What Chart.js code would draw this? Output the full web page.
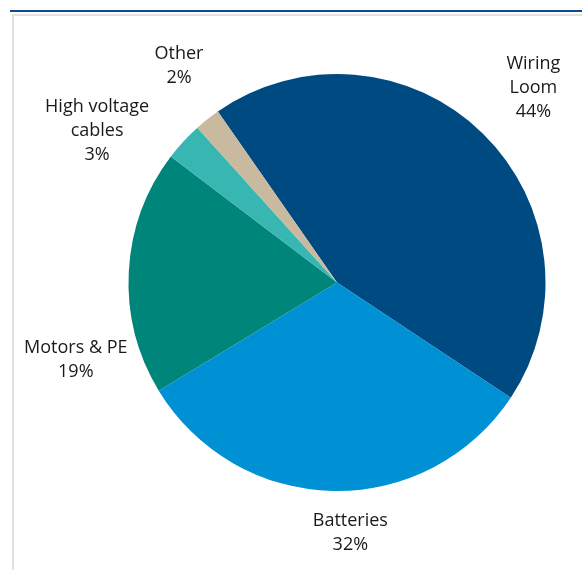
<!DOCTYPE html>
<html>
<head>
<meta charset="utf-8">
<script src="https://cdn.jsdelivr.net/npm/chart.js@4"></script>
<style>
  html, body { margin: 0; padding: 0; background: #fff; }
  #wrap { position: relative; width: 582px; height: 570px; }
  canvas { display: block; }
</style>
</head>
<body>
<div id="wrap"><canvas id="c" width="582" height="570"></canvas></div>
<script>
// ---- data ----
const categories = ["Wiring Loom", "Batteries", "Motors & PE", "High voltage cables", "Other"];
const labelLines = [["Wiring", "Loom"], ["Batteries"], ["Motors & PE"], ["High voltage", "cables"], ["Other"]];
const shares = [44, 32, 19, 3, 2];
const colors = ["#004a82", "#0091d5", "#00857b", "#38b7b2", "#c9b99f"];

// label placement (angle nudge in degrees, extra distance beyond the rim in px)
const labelPlacement = [[0.9, 68], [-4.2, 42], [-19.5, 64], [-10.2, 75.5], [2.4, 60]];

const frame = {
  id: "frame",
  beforeDraw(chart) {
    const ctx = chart.ctx;
    ctx.save();
    ctx.fillStyle = "#0b4d8a";
    ctx.fillRect(10, 10, 572, 2);
    ctx.fillStyle = "#e2e2e2";
    ctx.fillRect(12, 14, 570, 2);
    ctx.fillRect(12, 14, 2, 556);
    ctx.restore();
  }
};

const outsideLabels = {
  id: "outsideLabels",
  afterDatasetsDraw(chart) {
    const ctx = chart.ctx;
    const meta = chart.getDatasetMeta(0);
    const data = chart.data.datasets[0].data;
    const total = data.reduce((a, b) => a + b, 0);
    ctx.save();
    ctx.font = "18px 'Open Sans'";
    ctx.fillStyle = "#1a1a1a";
    ctx.textAlign = "center";
    ctx.textBaseline = "middle";
    const lh = 24;
    meta.data.forEach((arc, i) => {
      const p = arc.getProps(["x", "y", "startAngle", "endAngle", "outerRadius"], true);
      const mid = (p.startAngle + p.endAngle) / 2 + labelPlacement[i][0] * Math.PI / 180;
      const d = p.outerRadius + labelPlacement[i][1];
      const cx = p.x + Math.cos(mid) * d;
      const cy = p.y + Math.sin(mid) * d;
      const lines = labelLines[i].concat([Math.round(data[i] / total * 100) + "%"]);
      const top = cy - (lines.length - 1) * lh / 2;
      lines.forEach((t, k) => ctx.fillText(t, cx, top + k * lh));
    });
    ctx.restore();
  }
};

new Chart(document.getElementById("c"), {
  type: "pie",
  data: {
    labels: categories,
    datasets: [{
      data: shares,
      backgroundColor: colors,
      borderWidth: 0,
      hoverOffset: 0
    }]
  },
  options: {
    responsive: false,
    animation: false,
    rotation: -34.85,
    layout: { padding: { left: 128.5, right: 36.5, top: 74, bottom: 79 } },
    plugins: {
      legend: { display: false },
      tooltip: { enabled: false }
    }
  },
  plugins: [frame, outsideLabels]
});
</script>
</body>
</html>
